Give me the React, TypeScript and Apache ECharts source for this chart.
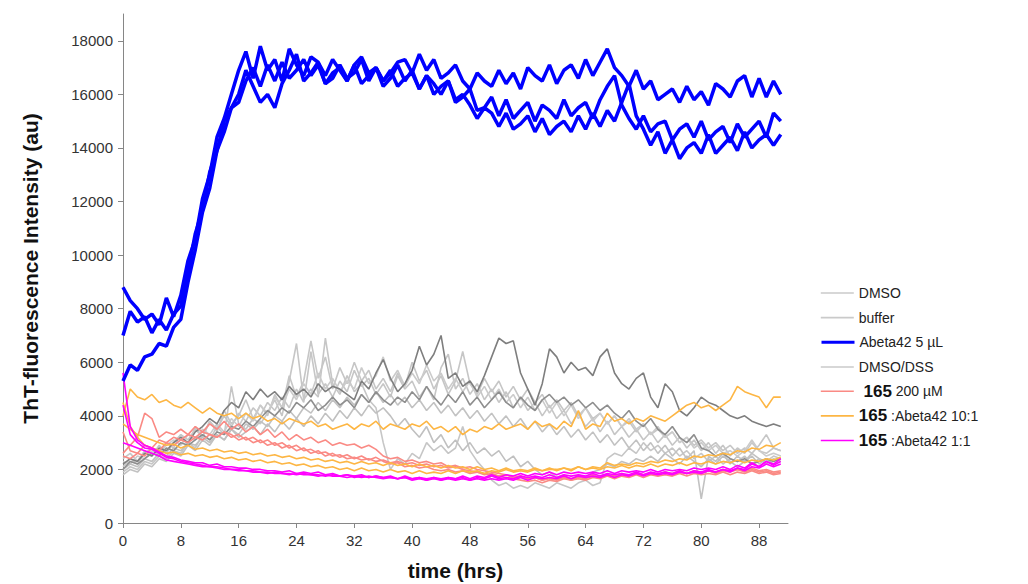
import React, { useEffect, useRef } from "react";
import * as echarts from "echarts";

// sampling times (hours), one reading per hour
const HOURS: number[] = Array.from({ length: 92 }, (_, i) => i);

const X_TICKS = [0, 8, 16, 24, 32, 40, 48, 56, 64, 72, 80, 88];
const Y_TICKS = [0, 2000, 4000, 6000, 8000, 10000, 12000, 14000, 16000, 18000];

// Abeta42 5 µL (blue)
const abetaA = [8800, 8300, 8000, 7600, 7800, 7400, 8400, 7700, 8500, 9800, 10600, 12100, 13000, 14400, 15100, 16000, 16900, 17600, 16600, 17800, 16900, 17300, 16500, 17700, 17100, 16700, 17400, 17200, 16700, 17300, 16900, 16500, 17100, 17400, 16800, 17000, 16500, 16800, 17200, 17300, 16800, 17500, 16900, 17300, 16600, 16800, 17100, 16500, 16200, 16800, 16500, 16300, 16900, 16400, 16800, 16200, 17000, 16700, 16500, 17100, 16400, 16900, 17100, 16600, 17300, 16700, 17200, 17700, 17000, 16700, 16300, 16900, 16200, 16500, 15800, 16000, 16200, 15700, 16300, 15800, 16100, 15600, 16400, 16200, 15900, 16500, 16700, 15900, 16600, 15900, 16500, 16000];
const abetaB = [7000, 7900, 7500, 7700, 7100, 7600, 7200, 7800, 8100, 9400, 10800, 11700, 13100, 13900, 15000, 15500, 16000, 16900, 16300, 15700, 16000, 15500, 16400, 16900, 17500, 16500, 16800, 17200, 16400, 16600, 17100, 16600, 16800, 17300, 16500, 17000, 16300, 16600, 17100, 16500, 16900, 16200, 16700, 16400, 16000, 16500, 15700, 15900, 16200, 15400, 15500, 15900, 15200, 15800, 15100, 15400, 15700, 15000, 15600, 15400, 15100, 15800, 15200, 15500, 15700, 15100, 15800, 16300, 16700, 15600, 15100, 14700, 15200, 14600, 14900, 15000, 14300, 14700, 14900, 14400, 15000, 14300, 14600, 14800, 14200, 14900, 14400, 14700, 15000, 14400, 15300, 15000];
const abetaC = [5300, 5900, 5700, 6200, 6300, 6700, 6600, 7300, 7600, 9000, 10200, 11600, 12500, 13900, 14600, 15500, 15700, 16500, 17000, 16300, 17100, 16500, 17200, 16600, 16900, 17300, 16700, 17100, 16400, 16800, 17000, 16500, 17100, 16400, 16700, 17000, 16500, 16900, 16300, 16600, 16800, 16200, 16700, 16000, 16300, 16500, 15800, 16000, 15600, 15100, 15500, 15300, 14800, 15300, 14700, 14900, 15200, 14600, 15100, 14500, 14800, 15000, 14600, 15200, 14700, 15300, 14800, 15400, 15000, 15700, 16400, 15200, 14700, 14100, 14600, 13800, 14300, 13600, 14000, 14200, 13800, 14500, 13800, 14100, 14400, 13900, 14600, 14000, 14300, 14500, 14100, 14500];

// grey controls
const dssA = [2200, 2400, 2300, 2600, 2500, 2800, 2700, 3000, 3200, 3000, 3400, 3600, 3900, 3700, 4200, 4500, 4300, 4900, 4600, 5000, 4700, 4900, 4600, 5100, 4800, 5000, 4700, 5200, 4900, 5100, 5000, 4800, 4600, 5300, 5000, 5600, 6100, 5400, 4900, 5200, 5700, 6600, 5900, 6300, 7000, 5400, 5600, 5100, 5300, 4900, 5500, 6200, 6900, 6700, 6800, 5600, 5000, 4400, 5200, 6500, 6200, 5600, 6000, 5700, 5800, 5500, 6200, 6500, 5600, 5200, 5000, 5400, 5600, 4700, 4300, 5200, 4900, 4200, 4000, 4300, 4700, 4500, 4400, 4200, 4000, 3900, 4000, 3800, 3700, 3600, 3700, 3600];
const dssB = [2000, 2300, 2200, 2400, 2600, 2500, 2800, 2700, 3000, 2900, 3100, 3300, 3100, 3400, 3300, 3600, 3500, 3800, 3600, 3900, 4200, 4000, 4300, 4100, 4500, 4300, 4600, 4200, 4400, 4700, 4400, 4600, 4300, 4800, 4500, 4900, 4600, 4400, 4700, 4500, 4900, 4600, 5100, 4700, 4400, 4800, 4500, 4900, 4400, 4700, 4300, 4600, 4900, 4500, 4300, 4700, 4400, 4200, 4600, 4800, 4500, 4700, 4400, 4600, 4300, 4500, 4200, 4400, 4100, 3900, 4200, 3800, 3600, 3900, 3500, 3300, 3600, 3200, 3000, 3300, 2800, 2700, 2500, 2600, 2400, 2300, 2400, 2200, 2300, 2400, 2300, 2400];
const dmsoA = [1900, 2100, 2000, 2300, 2200, 2500, 2400, 2700, 2600, 3000, 2800, 3300, 3100, 3600, 3300, 5100, 3700, 3500, 3900, 3700, 4100, 4600, 4000, 5300, 6700, 4600, 5000, 4700, 6900, 5200, 4800, 5500, 4900, 5200, 4600, 4300, 3000, 2000, 2400, 2200, 2600, 2400, 3000, 2700, 2900, 2600, 2800, 3600, 2700, 2300, 2000, 1600, 1400, 1500, 1300, 1400, 1300, 1500, 1400, 1300, 1500, 1400, 1300, 1500, 1600, 1400, 1500, 2400, 2600, 2500, 2800, 2600, 3000, 2700, 2900, 2600, 2800, 2500, 2700, 2400, 2600, 2300, 2500, 2200, 2400, 2300, 2500, 2200, 2400, 2300, 2500, 2400];
const dmsoB = [2100, 2400, 2200, 2600, 2800, 2500, 3000, 2800, 3300, 3100, 3500, 3200, 3800, 3500, 4000, 3600, 4100, 3800, 4300, 4000, 4500, 4200, 4700, 4300, 5000, 4500, 6400, 4800, 5200, 4700, 5300, 4900, 5700, 5100, 5400, 4800, 5200, 4700, 5500, 5000, 5300, 4700, 5100, 4600, 5800, 6300, 5000, 5400, 4800, 5200, 4600, 5000, 4500, 4900, 4300, 4700, 4200, 4500, 4000, 4400, 3900, 4200, 3700, 4100, 3600, 3900, 3400, 3800, 3300, 3600, 3200, 3500, 3100, 3400, 3000, 3300, 2900, 3200, 2800, 3100, 2700, 3000, 2600, 2900, 2500, 2800, 2600, 3000, 2700, 2600, 2800, 2700];
const dmsoC = [2400, 2600, 2300, 2700, 2500, 2900, 2600, 3000, 3300, 2900, 3600, 3200, 3800, 3400, 4200, 3700, 4000, 4600, 3900, 4400, 4000, 4800, 4300, 5500, 4700, 5300, 6800, 5400, 6200, 5000, 5800, 5200, 6000, 5300, 5700, 5000, 5400, 4900, 5600, 5100, 6000, 5300, 5700, 5000, 5500, 4800, 5300, 6400, 5200, 4800, 5400, 4900, 5300, 4700, 5100, 4600, 5000, 4500, 4800, 4300, 4600, 4200, 4500, 4000, 4300, 3900, 4100, 3700, 4000, 3600, 3800, 3400, 3700, 3300, 3500, 3200, 3400, 3000, 3200, 2900, 3100, 2800, 3000, 2700, 2900, 2600, 2800, 2600, 2900, 3300, 2800, 2700];
const bufferA = [1800, 2000, 1900, 2200, 2100, 2400, 2300, 2600, 2500, 2900, 2700, 3100, 2900, 3300, 3100, 3500, 3300, 3700, 3500, 3800, 3600, 4000, 3800, 4200, 3900, 4300, 4100, 4500, 4200, 4600, 4300, 4700, 4400, 4800, 4500, 4900, 4500, 4800, 4400, 4700, 4300, 4600, 4200, 4500, 4100, 4400, 4000, 4300, 3900, 4200, 3800, 4100, 3700, 4000, 3600, 3900, 3500, 3800, 3400, 3700, 3300, 3600, 3200, 3500, 3100, 3400, 3000, 3300, 2900, 3200, 2800, 3100, 2700, 3000, 2600, 2900, 2500, 2800, 2400, 2700, 900, 2500, 2300, 2600, 2200, 2500, 2300, 2600, 2400, 2200, 2400, 2300];
const bufferB = [2300, 2200, 2500, 2400, 2700, 2600, 2900, 3100, 2900, 3300, 3100, 3500, 3300, 3700, 3400, 3900, 3600, 4100, 3800, 4400, 4100, 4700, 4300, 5000, 4600, 5200, 4800, 5600, 5000, 5400, 4900, 5300, 5000, 5800, 5200, 5500, 6200, 5300, 5700, 5100, 5600, 5200, 5900, 5300, 5600, 5000, 5400, 4900, 5300, 4700, 5100, 4600, 5000, 4500, 4800, 4300, 4700, 4200, 4600, 4100, 4500, 4000, 4400, 3900, 4300, 3800, 4100, 3700, 4000, 3600, 3900, 3500, 3700, 3300, 3600, 3200, 3400, 3000, 3200, 2800, 3000, 2700, 2900, 2600, 2700, 2500, 2700, 3100, 2700, 2500, 2600, 2500];
const bufferC = [2000, 2200, 2100, 2400, 2300, 2600, 2500, 2800, 2700, 3000, 2900, 3200, 3000, 3300, 3100, 3500, 3200, 3400, 3600, 3300, 3700, 3400, 3800, 3500, 3900, 3600, 4000, 3700, 4100, 3800, 4200, 3900, 4300, 4000, 4400, 4100, 4300, 4000, 3600, 3900, 3500, 3200, 3600, 3000, 3300, 2800, 3100, 2700, 3000, 2600, 2800, 2500, 2700, 2300, 2500, 2100, 2300, 2000, 1800, 1900, 1700, 1800, 1600, 1800, 1700, 1900, 2000, 2200, 2100, 2300, 2200, 2400, 2300, 2500, 2300, 2600, 2400, 2200, 2500, 2300, 2100, 2400, 2200, 2500, 2300, 2100, 2300, 2500, 2200, 2400, 2200, 2300];

// 165 200 µM (salmon)
const cmpA = [2600, 2900, 3200, 4100, 3900, 3200, 3400, 3300, 3500, 3300, 3600, 3400, 3700, 3500, 3800, 3500, 3700, 3400, 3600, 3300, 3500, 3200, 3400, 3100, 3300, 3100, 3200, 3000, 3100, 2900, 3000, 2900, 2950, 2800, 2900, 2750, 2500, 2400, 2450, 2300, 2350, 2250, 2300, 2200, 2250, 2100, 2150, 2050, 2100, 2000, 1950, 1900, 1850, 1800, 1700, 1750, 1650, 1700, 1600, 1700, 1650, 1750, 1650, 1750, 1700, 1800, 1700, 1800, 1750, 1850, 1750, 1850, 1800, 1850, 1800, 1900, 1800, 1900, 1850, 1900, 1850, 1950, 1850, 1950, 1900, 2000, 1900, 2000, 1900, 1950, 1850, 1900];
const cmpB = [3400, 2700, 2600, 2900, 2800, 3100, 3000, 3200, 3100, 3300, 3200, 3400, 3300, 3200, 3400, 3300, 3100, 3200, 3000, 3100, 2900, 3000, 2800, 2900, 2700, 2800, 2600, 2700, 2500, 2600, 2450, 2550, 2400, 2500, 2350, 2450, 2300, 2200, 2250, 2100, 2150, 2050, 2100, 2000, 1950, 2000, 1900, 1950, 1850, 1900, 1800, 1850, 1750, 1800, 1700, 1750, 1650, 1700, 1600, 1650, 1600, 1700, 1600, 1650, 1600, 1700, 1650, 1750, 1650, 1750, 1700, 1800, 1700, 1800, 1750, 1800, 1750, 1850, 1750, 1850, 1800, 1850, 1800, 1900, 1800, 1900, 1850, 1950, 1850, 1900, 1800, 1850];
const cmpC = [2500, 2400, 2600, 2500, 2800, 2700, 3000, 2900, 3100, 3000, 3200, 3100, 3300, 3200, 3400, 3200, 3300, 3100, 3200, 3000, 3100, 2900, 3000, 2800, 2900, 2700, 2750, 2600, 2650, 2500, 2550, 2400, 2450, 2350, 2400, 2300, 2350, 2250, 2300, 2200, 2250, 2150, 2200, 2100, 2150, 2050, 2100, 2000, 1950, 1900, 1850, 1800, 1750, 1700, 1650, 1600, 1550, 1600, 1500, 1600, 1550, 1650, 1600, 1700, 1650, 1750, 1700, 1800, 1700, 1800, 1750, 1850, 1800, 1850, 1800, 1900, 1850, 1950, 1850, 1950, 1900, 1950, 1900, 2000, 1950, 2000, 1950, 2050, 1950, 2000, 1900, 1950];

// 165:Abeta42 10:1 (orange)
const tenA = [4000, 5000, 4700, 4600, 4800, 4500, 4600, 4400, 4300, 4500, 4300, 4100, 4300, 4100, 4000, 4100, 3900, 4100, 3900, 4000, 3800, 3900, 3700, 3900, 3800, 3700, 3800, 3600, 3700, 3500, 3600, 3700, 3500, 3700, 3600, 3800, 3500, 3700, 3600, 3500, 3700, 3600, 3800, 3500, 3600, 3400, 3600, 3300, 3500, 3400, 3600, 3500, 3700, 3500, 3600, 3700, 3500, 3800, 3600, 3700, 3500, 3800, 3600, 4200, 3500, 3700, 3600, 4100, 3800, 3900, 3700, 3900, 3800, 4000, 3900, 3800, 4000, 4200, 4400, 4500, 4300, 4400, 4200, 4400, 4600, 5100, 4900, 4800, 4700, 4300, 4700, 4700];
const tenB = [3700, 3500, 3300, 3200, 3100, 3000, 2900, 2950, 2800, 2900, 2750, 2800, 2700, 2750, 2650, 2700, 2600, 2650, 2550, 2600, 2500, 2550, 2450, 2500, 2400, 2450, 2350, 2400, 2300, 2350, 2250, 2300, 2200, 2300, 2200, 2250, 2150, 2250, 2150, 2200, 2100, 2200, 2100, 2150, 2050, 2150, 2050, 2100, 2000, 2100, 2000, 2050, 1950, 2050, 1950, 2000, 1950, 2050, 1950, 2000, 2000, 2050, 1950, 2100, 2000, 2100, 2050, 2250, 2150, 2200, 2150, 2250, 2200, 2300, 2250, 2350, 2300, 2400, 2350, 2500, 2450, 2550, 2500, 2600, 2550, 2700, 2650, 2800, 2750, 2900, 2850, 3000];
const tenC = [4500, 3600, 3200, 2900, 2800, 2700, 2600, 2650, 2550, 2600, 2500, 2550, 2450, 2500, 2400, 2450, 2350, 2400, 2300, 2350, 2250, 2300, 2200, 2250, 2150, 2200, 2100, 2150, 2050, 2100, 2000, 2050, 1950, 2050, 1950, 2000, 1900, 2000, 1900, 1950, 1850, 1950, 1850, 1900, 1850, 1950, 1850, 1950, 1900, 1950, 1850, 1950, 1900, 2000, 1900, 1950, 1900, 2000, 1950, 2050, 1950, 2050, 2000, 2100, 2000, 2050, 2000, 2100, 2050, 2150, 2050, 2150, 2100, 2200, 2100, 2200, 2150, 2250, 2150, 2250, 2200, 2300, 2200, 2300, 2250, 2350, 2250, 2350, 2300, 2400, 2350, 2450];

// 165:Abeta42 1:1 (magenta)
const oneA = [5600, 3600, 3100, 2900, 2800, 2650, 2500, 2450, 2350, 2300, 2250, 2250, 2150, 2200, 2100, 2100, 2050, 2050, 2000, 2000, 1950, 1950, 1900, 1950, 1850, 1900, 1850, 1900, 1800, 1850, 1750, 1800, 1750, 1800, 1700, 1750, 1700, 1750, 1650, 1750, 1650, 1700, 1650, 1700, 1600, 1700, 1650, 1700, 1600, 1700, 1650, 1750, 1650, 1700, 1650, 1750, 1700, 1750, 1700, 1800, 1700, 1800, 1750, 1800, 1750, 1850, 1750, 1850, 1800, 1850, 1800, 1900, 1800, 1900, 1850, 1900, 1850, 1950, 1850, 1950, 1900, 2000, 1900, 2000, 1950, 2050, 2000, 2200, 2100, 2300, 2150, 2300];
const oneB = [4400, 3300, 3000, 2800, 2750, 2600, 2450, 2400, 2300, 2250, 2200, 2150, 2100, 2100, 2050, 2000, 2000, 1950, 1950, 1900, 1900, 1850, 1850, 1800, 1850, 1800, 1800, 1750, 1800, 1750, 1750, 1700, 1750, 1700, 1750, 1700, 1650, 1700, 1650, 1700, 1600, 1650, 1600, 1650, 1600, 1650, 1600, 1650, 1600, 1650, 1600, 1650, 1600, 1650, 1600, 1700, 1600, 1700, 1650, 1700, 1650, 1750, 1650, 1750, 1700, 1750, 1700, 1800, 1700, 1800, 1750, 1850, 1750, 1850, 1800, 1850, 1800, 1900, 1850, 1900, 1850, 1950, 1900, 2000, 1900, 2050, 1950, 2100, 2050, 2200, 2100, 2200];
const oneC = [3000, 2900, 2800, 2700, 2600, 2500, 2350, 2300, 2250, 2200, 2150, 2100, 2100, 2050, 2000, 2000, 1950, 1950, 1900, 1900, 1850, 1900, 1850, 1850, 1800, 1850, 1800, 1800, 1750, 1800, 1750, 1800, 1700, 1750, 1700, 1750, 1700, 1700, 1650, 1700, 1650, 1700, 1600, 1700, 1650, 1700, 1650, 1750, 1650, 1750, 1700, 1800, 1700, 1800, 1750, 1850, 1750, 1850, 1800, 1900, 1800, 1900, 1850, 1900, 1850, 1900, 1850, 1950, 1850, 1950, 1900, 1950, 1900, 2000, 1900, 2000, 1950, 2000, 1950, 2050, 2000, 2050, 2000, 2100, 2000, 2150, 2050, 2250, 2100, 2300, 2200, 2400];

const N_DMSO = "DMSO";
const N_BUF = "buffer";
const N_AB = "Abeta42 5 µL";
const N_DSS = "DMSO/DSS";
const N_165 = "165 200 µM";
const N_10 = "165:Abeta42 10:1";
const N_11 = "165:Abeta42 1:1";

const LEGEND_ORDER = [N_DMSO, N_BUF, N_AB, N_DSS, N_165, N_10, N_11];

const LIGHT = "#c6c6c6";
const DARK = "#7e7e7e";
const BLUE = "#0000ff";
const SALMON = "#fa8a84";
const ORANGE = "#fdb644";
const MAGENTA = "#ff00ff";

const legendColor: Record<string, string> = {
  [N_DMSO]: "#cacaca",
  [N_BUF]: "#cacaca",
  [N_AB]: BLUE,
  [N_DSS]: "#cacaca",
  [N_165]: SALMON,
  [N_10]: ORANGE,
  [N_11]: MAGENTA,
};

function mk(name: string, values: number[], color: string, width: number) {
  return {
    type: "line",
    name,
    data: values.map((v, i) => [HOURS[i], v]),
    symbol: "none",
    showSymbol: false,
    smooth: false,
    lineStyle: { color, width },
    itemStyle: { color },
    emphasis: { disabled: true },
  };
}

export default function App() {
  const ref = useRef<HTMLDivElement>(null);
  useEffect(() => {
    document.body.style.margin = "0";
    const chart = echarts.init(ref.current!, null, { renderer: "svg" });
    const series = [
      mk(N_DMSO, dmsoA, LIGHT, 1.6),
      mk(N_DMSO, dmsoB, LIGHT, 1.6),
      mk(N_DMSO, dmsoC, LIGHT, 1.6),
      mk(N_BUF, bufferA, "#c2c2c2", 1.6),
      mk(N_BUF, bufferB, "#cbcbcb", 1.6),
      mk(N_BUF, bufferC, "#c0c0c0", 1.6),
      mk(N_DSS, dssA, DARK, 1.6),
      mk(N_DSS, dssB, "#8e8e8e", 1.6),
      mk(N_165, cmpA, SALMON, 1.6),
      mk(N_165, cmpB, SALMON, 1.6),
      mk(N_165, cmpC, SALMON, 1.6),
      mk(N_10, tenA, ORANGE, 1.6),
      mk(N_10, tenB, ORANGE, 1.6),
      mk(N_10, tenC, ORANGE, 1.6),
      mk(N_11, oneA, MAGENTA, 1.6),
      mk(N_11, oneB, MAGENTA, 1.6),
      mk(N_11, oneC, MAGENTA, 1.6),
      mk(N_AB, abetaA, BLUE, 3.5),
      mk(N_AB, abetaB, BLUE, 3.5),
      mk(N_AB, abetaC, BLUE, 3.5),
    ];
    const labelFont = "'Liberation Sans', Arial, sans-serif";
    const richNames: Record<string, string> = {
      [N_165]: "{b| 165} 200 µM",
      [N_10]: "{b|165} :Abeta42 10:1",
      [N_11]: "{b|165} :Abeta42 1:1",
    };
    const legends = LEGEND_ORDER.map((n, i) => {
      const rich = richNames[n] !== undefined;
      return {
        orient: "vertical",
        left: 820,
        top: 286 + i * 24.67 - (rich ? 2 : 0),
        padding: 0,
        itemWidth: 33,
        itemHeight: 14,
        selectedMode: false,
        itemStyle: { opacity: 0 },
        data: [
          {
            name: n,
            lineStyle: { color: legendColor[n], width: n === N_AB ? 3 : 1.6, opacity: 1 },
          },
        ],
        formatter: (name: string) => richNames[name] ?? name,
        textStyle: {
          fontFamily: labelFont,
          fontSize: 14,
          color: "#222",
          rich: {
            b: { fontFamily: labelFont, fontSize: 17, fontWeight: "bold", color: "#111" },
          },
        },
      };
    });
    chart.setOption({
      animation: false,
      backgroundColor: "#ffffff",
      grid: { left: 123, right: 240, top: 14, bottom: 61, containLabel: false, outerBoundsMode: "none" },
      legend: legends,
      xAxis: {
        type: "value",
        min: 0,
        max: 92,
        interval: 8,
        name: "time (hrs)",
        nameLocation: "middle",
        nameGap: 37,
        nameTextStyle: { fontFamily: labelFont, fontSize: 21, fontWeight: "bold", color: "#111" },
        splitLine: { show: false },
        axisLine: { lineStyle: { color: "#868686", width: 1 } },
        axisTick: { length: 5, lineStyle: { color: "#868686" }, customValues: X_TICKS },
        axisLabel: { customValues: X_TICKS, fontFamily: labelFont, fontSize: 15, color: "#333", margin: 10 },
      },
      yAxis: {
        type: "value",
        min: 0,
        max: 19000,
        interval: 2000,
        name: "ThT-fluorescence Intensity (au)",
        nameLocation: "middle",
        nameGap: 82,
        nameTextStyle: {
          fontFamily: "'Liberation Sans Narrow', 'Arial Narrow', 'Liberation Sans', sans-serif",
          fontSize: 21,
          fontWeight: "bold",
          color: "#111",
        },
        splitLine: { show: false },
        axisLine: { show: true, lineStyle: { color: "#868686", width: 1 } },
        axisTick: { show: true, length: 5, lineStyle: { color: "#868686" }, customValues: Y_TICKS },
        axisLabel: {
          customValues: Y_TICKS,
          formatter: (v: number) => String(v),
          fontFamily: labelFont,
          fontSize: 15,
          color: "#333",
          margin: 10,
        },
      },
      series,
    });
    return () => chart.dispose();
  }, []);
  return (
    <div
      ref={ref}
      style={{ position: "absolute", left: 0, top: 0, width: 1028, height: 584 }}
    />
  );
}
